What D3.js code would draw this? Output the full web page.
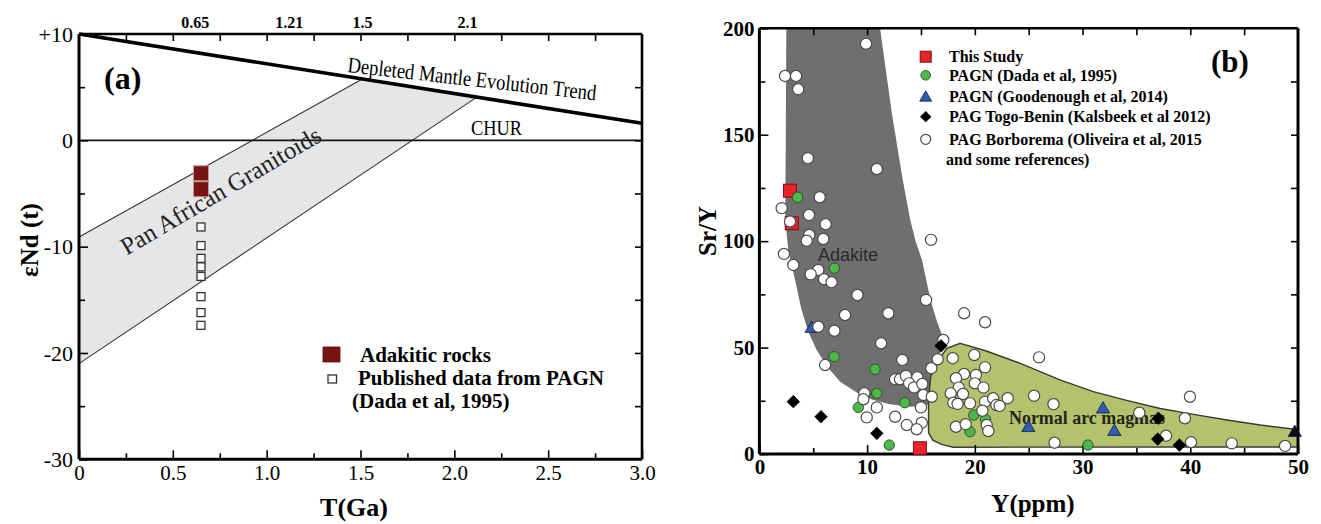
<!DOCTYPE html>
<html><head><meta charset="utf-8">
<script src="https://cdn.jsdelivr.net/npm/d3@7"></script>
<style>html,body{margin:0;padding:0;background:#fff}svg{display:block}</style>
</head><body>
<svg id="c" width="1321" height="524"></svg>
<script>
// ================= Panel (a) data =================
const adakiticT = [0.65, 0.65];
const adakiticEps = [-3.1, -4.6];
const pagnT = [0.65, 0.65, 0.65, 0.65, 0.65, 0.65, 0.65, 0.65];
const pagnEps = [-8.15, -9.9, -11.1, -11.9, -12.8, -14.7, -16.2, -17.4];
const dmT = [0, 3.0];
const dmEps = [10, 1.6];
const churT = [0, 3.0];
const churEps = [0, 0];
const bandT = [0, 1.51, 2.12, 0];
const bandEps = [-9.1, 5.77, 4.06, -21.0];
const xTicksA = [0, 0.5, 1.0, 1.5, 2.0, 2.5, 3.0];
const xTickLabelsA = ["0", "0.5", "1.0", "1.5", "2.0", "2.5", "3.0"];
const yTicksA = [10, 0, -10, -20, -30];
const yTickLabelsA = ["+10", "0", "-10", "-20", "-30"];
const topLabelsA = ["0.65", "1.21", "1.5", "2.1"];
const topLabelAtA = [0.62, 1.12, 1.51, 2.07];
const legendA = ["Adakitic rocks", "Published data from PAGN", "(Dada et al, 1995)"];

// ================= Panel (b) data =================
const studyY = [2.84, 3.0, 14.9];
const studySrY = [123.7, 108.4, 2.7];
const dadaY = [3.55, 6.96, 6.93, 10.73, 10.9, 9.18, 13.5, 12.06, 19.9, 21.0, 19.55, 30.5];
const dadaSrY = [120.6, 87.3, 45.7, 39.8, 28.5, 21.9, 24.1, 4.2, 18.3, 16.3, 10.5, 4.2];
const goodY = [4.85, 24.97, 31.9, 32.95];
const goodSrY = [59.4, 12.8, 21.5, 11.0];
const kalsY = [3.15, 5.72, 10.9, 16.86, 37.04, 36.98, 38.99];
const kalsSrY = [24.6, 17.5, 9.7, 50.8, 16.8, 7.0, 4.2];
const edgeTriY = [49.7];
const edgeTriSrY = [10.5];
const borbY = [9.9, 2.38, 3.4, 3.6, 4.5, 10.9, 5.6, 2.07, 4.6, 2.84, 6.15, 4.63, 4.39, 5.93, 15.93, 2.28, 3.15, 5.47, 4.76, 6.0,
  6.7, 9.1, 15.47, 11.97, 7.95, 5.47, 6.96, 11.3, 17.07, 13.27, 15.96, 16.55, 6.1, 12.6, 13.05, 13.6, 14.66, 13.9, 14.36, 15.12,
  9.74, 9.65, 15.22, 16.0, 15.0, 10.9, 9.96, 12.6, 13.68, 15.07, 14.6,
  19.0, 20.95, 17.95, 19.95, 25.96, 20.95, 19.0, 18.25, 20.1, 20.0, 18.5, 20.8, 17.76, 18.9, 18.0, 18.4, 19.55, 20.95, 21.7,
  22.0, 22.3, 23.05, 25.5, 27.3, 20.7, 18.25, 19.15, 21.1, 21.25, 27.4, 35.27, 39.97, 39.5, 37.75, 40.07, 43.85, 48.8];
const borbSrY = [192.7, 177.6, 177.6, 171.4, 139, 133.9, 120.6, 115.5, 112.3, 109.2, 107.9, 102.9, 100.2, 101, 100.6, 94, 88.8, 86.5, 84.4, 82.1,
  80.7, 74.7, 72.4, 66.1, 65.3, 59.8, 57.9, 52.0, 53.6, 44.2, 40.3, 44.5, 41.8, 35.1, 35.1, 36.7, 36, 33.2, 31.3, 32.9,
  28.5, 25.7, 27.7, 26.9, 21.9, 21.9, 17.2, 17.5, 13.6, 14.7, 11.6,
  66.1, 61.9, 45, 46.5, 45.4, 40.7, 37.6, 35.6, 37.1, 33.2, 31.2, 31.2, 28.5, 28.2, 24.1, 23.5, 23.8, 24.6, 26.2,
  23.0, 22.6, 26.2, 27.4, 23.4, 20.3, 12.8, 14.0, 13.6, 10.8, 5.3, 19.4, 26.9, 16.8, 8.6, 5.5, 5.0, 3.8];
const adakiteY = [2.5, 11.2, 12.3, 13.3, 14.0, 14.5, 15.1, 15.9, 16.5, 17.1, 16.6, 16.0, 15.7, 15.3, 13.8, 12.0, 10.5, 9.0, 7.5, 6.3, 5.3, 4.5, 3.9, 3.3, 2.7, 2.4, 2.45];
const adakiteSrY = [200, 200, 160, 129, 110, 100, 91, 72, 62, 54, 44, 33, 23.5, 22.2, 22.3, 23.5, 25.5, 29, 34, 41, 49, 58, 68, 82, 95, 110, 150];
const arcY = [18.65, 21, 24, 27.9, 31, 34, 37.2, 40.3, 43.4, 46.5, 50, 50, 18, 16.9, 16.1, 15.7, 15.7, 15.9, 16.6, 17.4];
const arcSrY = [52, 48.5, 43, 34.8, 29.3, 25.3, 21.4, 18.6, 16, 13.6, 11.5, 3.3, 3.2, 4.5, 6.5, 10, 25, 36.3, 44, 49.6];
const xTicksB = [0, 10, 20, 30, 40, 50];
const yTicksB = [0, 50, 100, 150, 200];
const legendB = ["This Study", "PAGN (Dada et al, 1995)", "PAGN (Goodenough et al, 2014)", "PAG Togo-Benin (Kalsbeek et al 2012)", "PAG Borborema (Oliveira et al, 2015", "and some references)"];

// ================= Drawing =================
const svg = d3.select("#c");
const serif = "'Liberation Serif','Times New Roman',serif";
const sans = "'Liberation Sans',Arial,sans-serif";

function styleAxis(g, fs, bold) {
  g.select(".domain").remove();
  g.selectAll(".tick line").attr("stroke", "#000").attr("stroke-width", 1.6);
  g.selectAll(".tick text").attr("font-family", serif).attr("font-size", fs)
    .attr("font-weight", bold ? "bold" : "normal").attr("fill", "#000");
}

// ---------- Panel (a) ----------
const xa = d3.scaleLinear().domain([0, 3]).range([79, 642]);
const ya = d3.scaleLinear().domain([-30, 10]).range([459.3, 34]);
const A = svg.append("g");

const band = d3.zip(bandT, bandEps);
A.append("path").attr("d", d3.line().x(d => xa(d[0])).y(d => ya(d[1]))(band) + "Z")
  .attr("fill", "#e5e6e8").attr("stroke", "none");
A.append("line").attr("x1", xa(band[0][0])).attr("y1", ya(band[0][1])).attr("x2", xa(band[1][0])).attr("y2", ya(band[1][1]))
  .attr("stroke", "#333").attr("stroke-width", 1.1);
A.append("line").attr("x1", xa(band[3][0])).attr("y1", ya(band[3][1])).attr("x2", xa(band[2][0])).attr("y2", ya(band[2][1]))
  .attr("stroke", "#333").attr("stroke-width", 1.1);
A.append("line").attr("x1", xa(churT[0])).attr("y1", ya(churEps[0])).attr("x2", xa(churT[1])).attr("y2", ya(churEps[1]))
  .attr("stroke", "#111").attr("stroke-width", 1.8);
A.append("line").attr("x1", xa(dmT[0])).attr("y1", ya(dmEps[0])).attr("x2", xa(dmT[1])).attr("y2", ya(dmEps[1]))
  .attr("stroke", "#000").attr("stroke-width", 3.6);

// axes a
A.append("g").attr("transform", `translate(0,${ya(-30)})`)
  .call(d3.axisBottom(xa).tickValues(xTicksA).tickFormat((d, i) => xTickLabelsA[i]).tickSizeInner(-9).tickSizeOuter(0).tickPadding(6))
  .call(g => styleAxis(g, 21, false));
A.append("g").attr("transform", `translate(0,${ya(-30)})`)
  .call(d3.axisBottom(xa).tickValues(d3.range(0.25, 3, 0.5)).tickFormat("").tickSizeInner(-6).tickSizeOuter(0))
  .call(g => styleAxis(g, 10, false));
A.append("g").attr("transform", `translate(0,${ya(10)})`)
  .call(d3.axisTop(xa).tickValues(d3.range(0.25, 3, 0.25)).tickFormat("").tickSizeInner(-7).tickSizeOuter(0))
  .call(g => styleAxis(g, 10, false));
A.append("g").attr("transform", `translate(${xa(0)},0)`)
  .call(d3.axisLeft(ya).tickValues(yTicksA).tickFormat((d, i) => yTickLabelsA[i]).tickSizeInner(-9).tickSizeOuter(0).tickPadding(6))
  .call(g => styleAxis(g, 22, false));
A.append("g").attr("transform", `translate(${xa(0)},0)`)
  .call(d3.axisLeft(ya).tickValues([-25, -15, -5, 5]).tickFormat("").tickSizeInner(-6).tickSizeOuter(0))
  .call(g => styleAxis(g, 10, false));
A.append("g").attr("transform", `translate(${xa(3)},0)`)
  .call(d3.axisRight(ya).tickValues(d3.range(-25, 10, 5)).tickFormat("").tickSizeInner(-7).tickSizeOuter(0))
  .call(g => styleAxis(g, 10, false));
// frame
A.append("line").attr("x1", xa(0)).attr("x2", xa(3)).attr("y1", ya(-30)).attr("y2", ya(-30)).attr("stroke", "#000").attr("stroke-width", 3);
A.append("line").attr("x1", xa(0)).attr("x2", xa(0)).attr("y1", ya(10)).attr("y2", ya(-30)).attr("stroke", "#000").attr("stroke-width", 3);
A.append("line").attr("x1", xa(3)).attr("x2", xa(3)).attr("y1", ya(10)).attr("y2", ya(-30)).attr("stroke", "#000").attr("stroke-width", 2.6);
A.append("line").attr("x1", xa(0)).attr("x2", xa(3)).attr("y1", ya(10)).attr("y2", ya(10)).attr("stroke", "#000").attr("stroke-width", 2.4);

// top labels
A.selectAll("text.top").data(topLabelsA).join("text")
  .attr("x", (d, i) => xa(topLabelAtA[i])).attr("y", 28).attr("text-anchor", "middle")
  .attr("font-family", serif).attr("font-size", 16).attr("font-weight", "bold").text(d => d);

// annotations
A.append("text").attr("x", 104).attr("y", 89).attr("font-family", serif).attr("font-size", 32).attr("font-weight", "bold").text("(a)");
A.append("text").attr("transform", "translate(347,72) rotate(6.5)").attr("font-family", serif).attr("font-size", 22)
  .attr("textLength", 250).attr("lengthAdjust", "spacingAndGlyphs").text("Depleted Mantle Evolution Trend");
A.append("text").attr("x", 471).attr("y", 135).attr("font-family", serif).attr("font-size", 21)
  .attr("textLength", 51).attr("lengthAdjust", "spacingAndGlyphs").text("CHUR");
A.append("text").attr("transform", "translate(225,198) rotate(-30.5)").attr("text-anchor", "middle")
  .attr("font-family", serif).attr("font-size", 25).attr("fill", "#222")
  .attr("textLength", 228).attr("lengthAdjust", "spacingAndGlyphs").text("Pan African Granitoids");

// points a
A.selectAll("rect.pagn").data(d3.zip(pagnT, pagnEps)).join("rect")
  .attr("x", d => xa(d[0]) - 4).attr("y", d => ya(d[1]) - 4).attr("width", 8).attr("height", 8)
  .attr("fill", "#fff").attr("stroke", "#333").attr("stroke-width", 1.3);
A.selectAll("rect.adak").data(d3.zip(adakiticT, adakiticEps)).join("rect")
  .attr("x", d => xa(d[0]) - 7.5).attr("y", d => ya(d[1]) - 7.5).attr("width", 15).attr("height", 15)
  .attr("fill", "#7a1313").attr("stroke", "#c79a9a").attr("stroke-width", 0.9);

// legend a
A.append("rect").attr("x", 323).attr("y", 347).attr("width", 17).attr("height", 15).attr("fill", "#7a1313").attr("stroke", "#5a0a0a").attr("stroke-width", 0.8);
A.append("rect").attr("x", 328).attr("y", 375).attr("width", 8.5).attr("height", 8).attr("fill", "#fff").attr("stroke", "#333").attr("stroke-width", 1.3);
[[360, 362], [358, 385], [352, 408]].forEach((p, i) => {
  A.append("text").attr("x", p[0]).attr("y", p[1]).attr("font-family", serif).attr("font-size", 21).attr("font-weight", "bold").text(legendA[i]);
});

// axis titles a
A.append("text").attr("transform", "translate(38,240) rotate(-90)").attr("text-anchor", "middle")
  .attr("font-family", serif).attr("font-size", 25).attr("font-weight", "bold").text("εNd (t)");
A.append("text").attr("x", 354).attr("y", 516).attr("text-anchor", "middle")
  .attr("font-family", serif).attr("font-size", 26).attr("font-weight", "bold").text("T(Ga)");

// ---------- Panel (b) ----------
const xb = d3.scaleLinear().domain([0, 50]).range([759.4, 1298]);
const yb = d3.scaleLinear().domain([0, 200]).range([454, 28.3]);
const B = svg.append("g");
const lineB = d3.line().x(d => xb(d[0])).y(d => yb(d[1]));

B.append("path").attr("d", lineB(d3.zip(adakiteY, adakiteSrY)) + "Z").attr("fill", "#6f6f6f").attr("stroke", "none");
B.append("path").attr("d", lineB(d3.zip(arcY, arcSrY)) + "Z").attr("fill", "#b4c26e").attr("stroke", "#3a3a33").attr("stroke-width", 1.4);

B.append("text").attr("x", 848).attr("y", 261).attr("text-anchor", "middle").attr("font-family", sans).attr("font-size", 18).attr("fill", "#2a2a2a").text("Adakite");
B.append("text").attr("x", 1087).attr("y", 424).attr("text-anchor", "middle").attr("font-family", serif).attr("font-size", 18)
  .attr("font-weight", "bold").attr("fill", "#262618").attr("textLength", 156).attr("lengthAdjust", "spacingAndGlyphs").text("Normal arc magmas");

// axes b
B.append("g").attr("transform", `translate(0,${yb(0)})`)
  .call(d3.axisBottom(xb).tickValues(xTicksB).tickFormat(d3.format("d")).tickSizeInner(-9).tickSizeOuter(0).tickPadding(5))
  .call(g => styleAxis(g, 21, true));
B.append("g").attr("transform", `translate(0,${yb(0)})`)
  .call(d3.axisBottom(xb).tickValues(d3.range(5, 50, 10)).tickFormat("").tickSizeInner(-6).tickSizeOuter(0))
  .call(g => styleAxis(g, 10, false));
B.append("g").attr("transform", `translate(0,${yb(200)})`)
  .call(d3.axisTop(xb).tickValues(d3.range(5, 50, 5)).tickFormat("").tickSizeInner(-7).tickSizeOuter(0))
  .call(g => styleAxis(g, 10, false));
B.append("g").attr("transform", `translate(${xb(0)},0)`)
  .call(d3.axisLeft(yb).tickValues(yTicksB).tickFormat(d3.format("d")).tickSizeInner(-9).tickSizeOuter(0).tickPadding(5))
  .call(g => styleAxis(g, 21, true));
B.append("g").attr("transform", `translate(${xb(0)},0)`)
  .call(d3.axisLeft(yb).tickValues([25, 75, 125, 175]).tickFormat("").tickSizeInner(-6).tickSizeOuter(0))
  .call(g => styleAxis(g, 10, false));
B.append("g").attr("transform", `translate(${xb(50)},0)`)
  .call(d3.axisRight(yb).tickValues(d3.range(25, 200, 25)).tickFormat("").tickSizeInner(-7).tickSizeOuter(0))
  .call(g => styleAxis(g, 10, false));
B.append("line").attr("x1", xb(0)).attr("x2", xb(50)).attr("y1", yb(0)).attr("y2", yb(0)).attr("stroke", "#000").attr("stroke-width", 3);
B.append("line").attr("x1", xb(0)).attr("x2", xb(0)).attr("y1", yb(200)).attr("y2", yb(0)).attr("stroke", "#000").attr("stroke-width", 3);
B.append("line").attr("x1", xb(50)).attr("x2", xb(50)).attr("y1", yb(200)).attr("y2", yb(0)).attr("stroke", "#000").attr("stroke-width", 3);
B.append("line").attr("x1", xb(0)).attr("x2", xb(50)).attr("y1", yb(200)).attr("y2", yb(200)).attr("stroke", "#000").attr("stroke-width", 2.6);

// markers
const sq = d3.symbol().type(d3.symbolSquare);
const tri = d3.symbol().type(d3.symbolTriangle);
function drawSquares(xs, ys, s) {
  B.append("g").selectAll("rect").data(d3.zip(xs, ys)).join("rect")
    .attr("x", d => xb(d[0]) - s / 2).attr("y", d => yb(d[1]) - s / 2).attr("width", s).attr("height", s)
    .attr("fill", "#e5232a").attr("stroke", "#7d0f12").attr("stroke-width", 1);
}
function drawCircles(xs, ys, r, fill, stroke, sw) {
  B.append("g").selectAll("circle").data(d3.zip(xs, ys)).join("circle")
    .attr("cx", d => xb(d[0])).attr("cy", d => yb(d[1])).attr("r", r)
    .attr("fill", fill).attr("stroke", stroke).attr("stroke-width", sw);
}
function drawTris(xs, ys, size, fill) {
  B.append("g").selectAll("path").data(d3.zip(xs, ys)).join("path")
    .attr("d", tri.size(size)).attr("transform", d => `translate(${xb(d[0])},${yb(d[1]) + 1})`)
    .attr("fill", fill).attr("stroke", "#111a40").attr("stroke-width", 0.8);
}
function drawDiamonds(xs, ys, size) {
  B.append("g").selectAll("path").data(d3.zip(xs, ys)).join("path")
    .attr("d", sq.size(size)).attr("transform", d => `translate(${xb(d[0])},${yb(d[1])}) rotate(45)`)
    .attr("fill", "#000").attr("stroke", "#000").attr("stroke-width", 0.6);
}
drawSquares(studyY, studySrY, 13);
drawCircles(dadaY, dadaSrY, 5.2, "#4cb847", "#2b4a26", 0.9);
drawTris(goodY, goodSrY, 75, "#2e5cb0");
drawCircles(borbY, borbSrY, 5.6, "#fff", "#4a4a4a", 1.2);
drawDiamonds(kalsY, kalsSrY, 80);
drawTris(edgeTriY, edgeTriSrY, 75, "#0a0a14");

// legend b
const lx = 925.7, ly = [56.7, 75.3, 96.7, 116.7, 139.3];
B.append("rect").attr("x", lx - 5.5).attr("y", ly[0] - 5.5).attr("width", 11).attr("height", 11).attr("fill", "#e5232a").attr("stroke", "#7d0f12").attr("stroke-width", 1);
B.append("circle").attr("cx", lx).attr("cy", ly[1]).attr("r", 4.8).attr("fill", "#4cb847").attr("stroke", "#2b4a26").attr("stroke-width", 0.9);
B.append("path").attr("d", tri.size(62)).attr("transform", `translate(${lx},${ly[2] + 1})`).attr("fill", "#2e5cb0").attr("stroke", "#111a40").attr("stroke-width", 0.8);
B.append("path").attr("d", sq.size(64)).attr("transform", `translate(${lx},${ly[3]}) rotate(45)`).attr("fill", "#000");
B.append("circle").attr("cx", lx).attr("cy", ly[4]).attr("r", 5).attr("fill", "#fff").attr("stroke", "#4a4a4a").attr("stroke-width", 1.2);
[[949, 62], [949, 80.5], [949, 102], [949, 122], [949, 144.5], [946, 165]].forEach((p, i) => {
  B.append("text").attr("x", p[0]).attr("y", p[1]).attr("font-family", serif).attr("font-size", 16).attr("font-weight", "bold").text(legendB[i]);
});
B.append("text").attr("x", 1211).attr("y", 72).attr("font-family", serif).attr("font-size", 31).attr("font-weight", "bold").text("(b)");

// axis titles b
B.append("text").attr("transform", "translate(716,231) rotate(-90)").attr("text-anchor", "middle")
  .attr("font-family", serif).attr("font-size", 25).attr("font-weight", "bold").text("Sr/Y");
B.append("text").attr("x", 1033).attr("y", 512).attr("text-anchor", "middle")
  .attr("font-family", serif).attr("font-size", 25).attr("font-weight", "bold").text("Y(ppm)");
</script>
</body></html>
